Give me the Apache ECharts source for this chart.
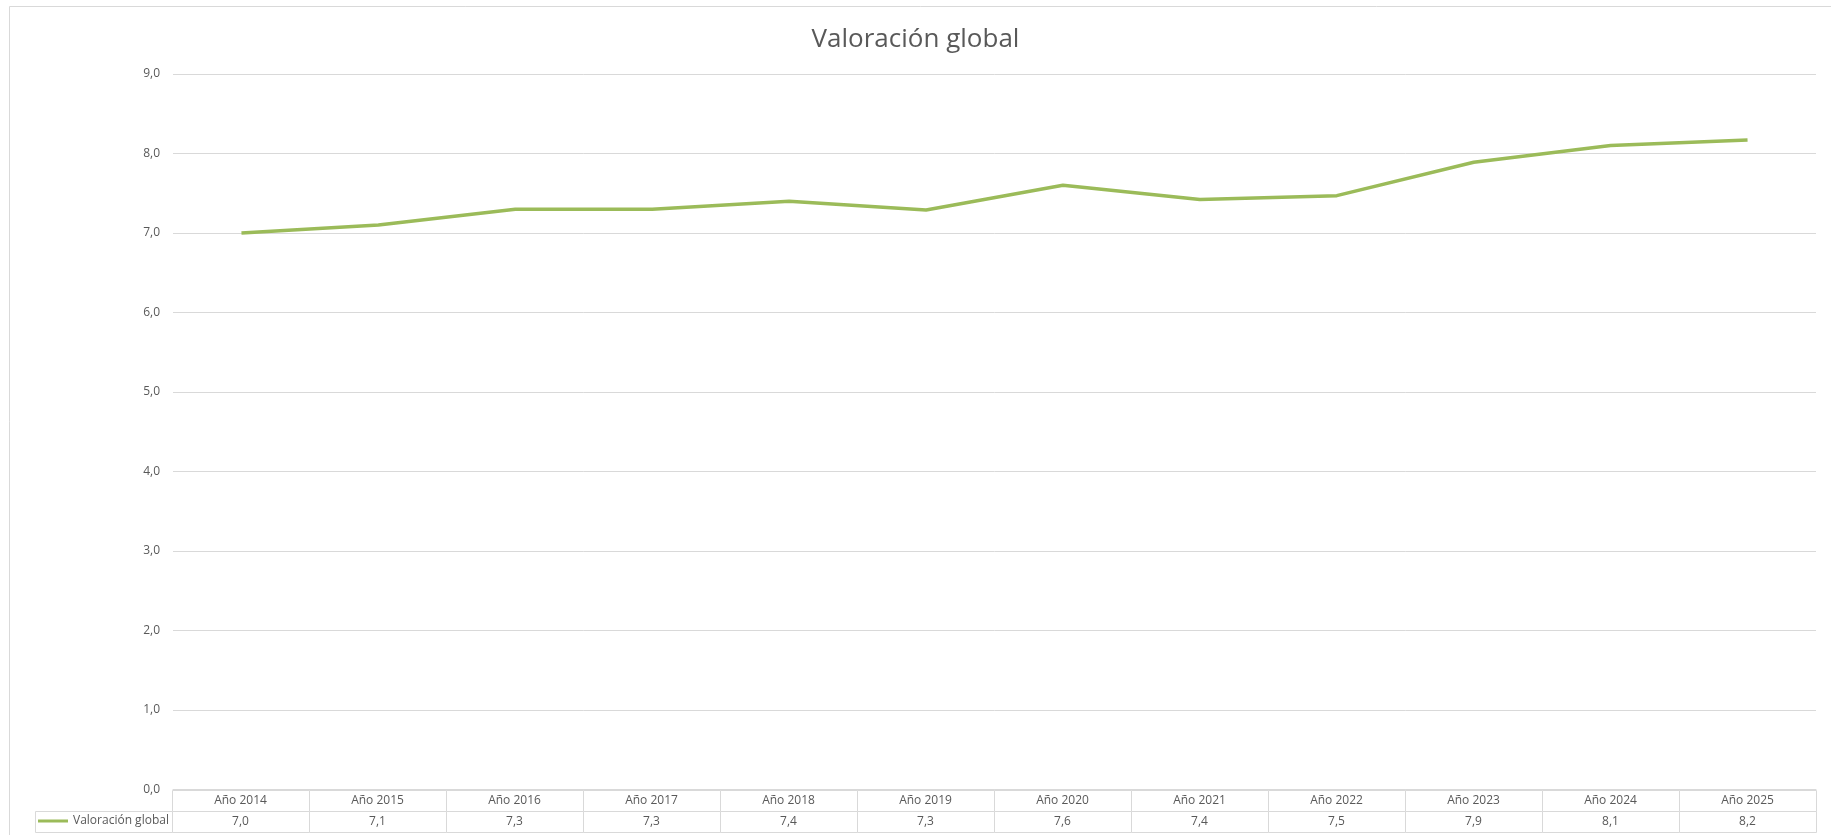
<!DOCTYPE html>
<html>
<head>
    <meta charset="utf-8" />
    <title>Valoración global</title>
    <script src="https://cdn.jsdelivr.net/npm/echarts@6/dist/echarts.min.js"></script>
    <style>
        html, body { margin: 0; padding: 0; background: #fff; }
        #chart1 { width: 1831px; height: 835px; }
    </style>
</head>
<body>
    <div id="chart1"></div>
    <script type="text/javascript">
        // datos
        var seriesName = 'Valoración global';
        var years = ['Año 2014', 'Año 2015', 'Año 2016', 'Año 2017', 'Año 2018', 'Año 2019',
                     'Año 2020', 'Año 2021', 'Año 2022', 'Año 2023', 'Año 2024', 'Año 2025'];
        var values = [7.0, 7.1, 7.3, 7.3, 7.4, 7.29, 7.6, 7.42, 7.47, 7.89, 8.1, 8.17];
        var yTicks = [0, 1, 2, 3, 4, 5, 6, 7, 8, 9];

        var fontName = '"Open Sans", "Liberation Sans", sans-serif';
        var textColor = '#595959';
        var gridColor = '#d9d9d9';
        var lineColor = '#9bbb59';

        function fmt(v) {
            return Number(v).toFixed(1).replace('.', ',');
        }

        // tabla de datos: columna 0 = leyenda, fila 1 = años, fila 0 = valores
        var tableCols = [''].concat(years);
        var tableRows = ['valor', 'año'];
        var tableData = [[0, 0]];
        for (var i = 0; i < years.length; i++) {
            tableData.push([i + 1, 1]);
            tableData.push([i + 1, 0]);
        }

        var myChart1 = echarts.init(document.getElementById('chart1'));
        var option = {
            backgroundColor: '#fff',
            animation: false,
            textStyle: { fontFamily: fontName },
            title: {
                text: seriesName,
                left: 'center',
                top: 22,
                textStyle: { color: textColor, fontSize: 26, fontWeight: 'normal', fontFamily: fontName }
            },
            legend: {
                data: [seriesName],
                left: 38,
                top: 815,
                icon: 'rect',
                itemWidth: 30,
                itemHeight: 3,
                itemGap: 4,
                selectedMode: false,
                padding: 0,
                textStyle: { color: textColor, fontSize: 12, fontFamily: fontName }
            },
            graphic: [{
                type: 'rect',
                shape: { x: 9.5, y: 6.5, width: 1840, height: 840 },
                style: { fill: 'none', stroke: gridColor, lineWidth: 1 },
                silent: true
            }],
            grid: [
                { left: 173, right: 15, top: 74, bottom: 45.5 },
                { left: 35, right: 15, top: 789.5, height: 42 }
            ],
            xAxis: [
                {
                    type: 'category',
                    gridIndex: 0,
                    data: years,
                    boundaryGap: true,
                    axisLine: { lineStyle: { color: gridColor } },
                    axisTick: { show: false },
                    axisLabel: { show: false }
                },
                {
                    type: 'category',
                    gridIndex: 1,
                    data: tableCols,
                    axisLine: { show: false },
                    axisTick: { show: false },
                    axisLabel: { show: false }
                }
            ],
            yAxis: [
                {
                    type: 'value',
                    gridIndex: 0,
                    min: yTicks[0],
                    max: yTicks[yTicks.length - 1],
                    interval: 1,
                    axisLine: { show: false },
                    axisTick: { show: false },
                    axisLabel: {
                        color: textColor,
                        fontSize: 12,
                        margin: 13,
                        fontFamily: fontName,
                        formatter: fmt
                    },
                    splitLine: { lineStyle: { color: gridColor } }
                },
                {
                    type: 'category',
                    gridIndex: 1,
                    data: tableRows,
                    axisLine: { show: false },
                    axisTick: { show: false },
                    axisLabel: { show: false },
                    splitLine: { show: false }
                }
            ],
            series: [
                {
                    name: seriesName,
                    type: 'line',
                    xAxisIndex: 0,
                    yAxisIndex: 0,
                    data: values,
                    symbol: 'none',
                    showSymbol: false,
                    lineStyle: { color: lineColor, width: 3.5 },
                    itemStyle: { color: lineColor },
                    z: 3
                },
                {
                    type: 'custom',
                    xAxisIndex: 1,
                    yAxisIndex: 1,
                    data: tableData,
                    silent: true,
                    z: 1,
                    renderItem: function (params, api) {
                        var col = api.value(0);
                        var row = api.value(1);
                        var c = api.coord([col, row]);
                        var s = api.size([1, 1]);
                        var txt = '';
                        if (col > 0) {
                            txt = row === 1 ? years[col - 1] : fmt(values[col - 1]);
                        }
                        return {
                            type: 'group',
                            children: [
                                {
                                    type: 'rect',
                                    shape: { x: Math.round(c[0] - s[0] / 2) + 0.5, y: Math.round(c[1] - s[1] / 2) + 0.5, width: Math.round(s[0]), height: Math.round(s[1]) },
                                    style: { fill: '#fff', stroke: gridColor, lineWidth: 1 }
                                },
                                {
                                    type: 'text',
                                    style: {
                                        x: c[0],
                                        y: c[1] + 1,
                                        text: txt,
                                        fill: textColor,
                                        fontSize: 12,
                                        fontFamily: fontName,
                                        align: 'center',
                                        verticalAlign: 'middle'
                                    }
                                }
                            ]
                        };
                    }
                }
            ]
        };
        myChart1.setOption(option);
    </script>
</body>
</html>
